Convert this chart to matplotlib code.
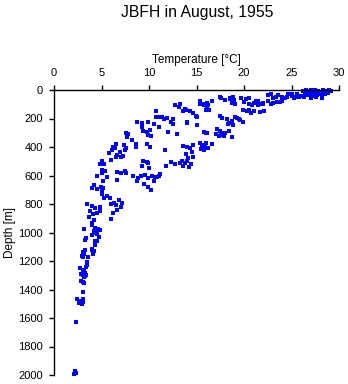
import matplotlib
matplotlib.use("Agg")
import matplotlib.pyplot as plt

plt.rcParams["font.family"] = ["Liberation Sans", "DejaVu Sans"]

# (temperature [degC], depth [m])
surface = [
    (26.2, 5), (26.5, 0), (26.8, 8), (27.0, 3), (27.3, 10), (27.5, 0),
    (27.8, 5), (28.0, 12), (28.3, 2), (28.6, 8), (28.9, 0), (29.2, 5),
    (26.4, 22), (26.9, 28), (27.4, 20), (27.9, 25), (28.4, 18), (28.8, 22),
    (26.6, 38), (27.2, 42), (27.7, 35), (28.2, 40), (28.5, 30),
    (25.0, 42), (25.5, 48), (26.0, 40), (25.3, 58), (25.8, 52), (26.3, 48),
    (27.0, 55), (27.6, 50), (28.2, 56),
    (24.6, 28), (25.1, 30), (25.6, 25),
    (22.5, 32), (23.0, 55), (23.6, 35), (24.0, 48), (24.5, 52),
    (22.8, 30), (23.4, 50), (24.3, 55),
    (21.5, 78), (22.0, 88), (22.5, 80), (23.0, 92), (23.5, 85), (24.0, 78),
    (21.8, 100), (22.8, 96), (23.8, 84),
    (20.0, 82), (20.5, 95), (21.0, 88), (21.5, 102), (22.0, 97), (20.8, 105),
    (21.3, 80),
    (19.7, 58), (20.2, 65), (20.5, 55),
    (18.5, 62), (18.8, 85), (19.0, 100), (18.7, 92),
    (17.6, 58), (18.0, 70), (18.5, 55), (18.9, 72),
    (15.4, 78), (15.8, 98), (16.2, 102), (16.6, 75), (16.1, 90),
    (17.5, 52), (18.8, 50),
]

thermocline = [
    (13.3, 100), (13.6, 147), (13.9, 140), (14.3, 150), (12.7, 105),
    (13.2, 120), (13.8, 130), (14.6, 160), (14.9, 185), (15.0, 190),
    (16.0, 140), (16.3, 142), (15.4, 100), (15.8, 104), (16.1, 110),
    (17.5, 180), (17.7, 195), (18.2, 205), (18.7, 215), (19.3, 195),
    (19.6, 210), (19.9, 222), (19.0, 190), (19.5, 200), (18.4, 232),
    (18.8, 245), (18.3, 240),
    (19.9, 140), (20.3, 150), (20.7, 160), (21.1, 145), (21.7, 155),
    (22.1, 150), (20.5, 142),
    (14.0, 225), (15.0, 245), (12.3, 225), (11.6, 200), (12.5, 240),
    (14.0, 230), (12.0, 293), (12.9, 310),
    (15.8, 295), (16.1, 305), (16.0, 300), (17.1, 310),
    (17.2, 275), (17.5, 290), (17.6, 305), (17.8, 315), (17.4, 320),
    (18.0, 300), (18.4, 285), (18.7, 330), (17.9, 325),
    (15.4, 370), (15.6, 385), (15.7, 392), (15.9, 400), (16.2, 410),
    (16.6, 380), (15.5, 415), (16.0, 375), (15.8, 420),
    (13.6, 390), (14.0, 400), (14.6, 385), (14.3, 410), (14.5, 433),
    (13.9, 450), (14.6, 470), (14.1, 480),
    (13.5, 500), (13.8, 510), (14.0, 495), (14.4, 520), (13.6, 530),
    (14.2, 540), (13.3, 515),
    (12.3, 505), (12.7, 520), (11.8, 530), (11.7, 420),
    (11.4, 188), (11.9, 195), (12.5, 200), (10.7, 150), (10.7, 190),
    (11.0, 192),
]

upper_branch = [
    (8.7, 222), (9.3, 235), (9.3, 260), (9.4, 290), (9.9, 222), (9.8, 295),
    (10.2, 320), (10.1, 280), (10.5, 240), (11.1, 260), (9.9, 316),
    (7.6, 300), (7.8, 310), (7.7, 330), (8.2, 350), (8.6, 380), (8.6, 400),
    (9.8, 380), (7.4, 385), (7.5, 420), (7.6, 405), (10.1, 400),
    (6.5, 380), (6.2, 398), (6.1, 420), (6.4, 410), (6.9, 437), (6.5, 470),
    (7.0, 470), (7.3, 460), (5.8, 440), (6.6, 455), (6.0, 490),
    (5.1, 500), (4.8, 520), (5.3, 520), (5.0, 560), (5.4, 565), (5.1, 580),
    (4.5, 600), (5.6, 610), (5.2, 640), (4.9, 680), (5.0, 700),
    (6.6, 575), (7.0, 580), (7.5, 570), (8.3, 600), (6.6, 632), (7.6, 580),
    (8.7, 640),
    (9.4, 500), (9.8, 505), (9.9, 510),
    (8.8, 620), (9.2, 600), (9.6, 595), (9.9, 620), (10.3, 600),
    (10.6, 610), (11.0, 600), (11.2, 590), (9.5, 660), (9.9, 680),
    (10.2, 700), (9.3, 530), (10.0, 550), (10.5, 640), (10.8, 610),
]

deep = [
    (4.0, 690), (4.5, 695), (5.2, 685), (4.2, 670), (5.0, 730), (5.6, 745),
    (5.3, 760),
    (5.9, 760), (6.3, 790), (6.8, 770), (6.0, 800), (6.5, 810), (7.0, 820),
    (6.6, 840), (6.2, 860), (6.0, 906), (7.2, 790),
    (3.5, 800), (4.0, 815), (4.3, 830), (3.8, 850), (4.1, 870), (4.5, 860),
    (3.7, 890), (4.2, 910), (4.0, 930), (4.8, 820), (4.8, 850),
    (4.0, 950), (4.3, 965), (4.6, 975), (4.2, 990), (4.8, 985), (4.5, 1010),
    (4.0, 1020), (4.7, 1030), (4.4, 1000), (3.2, 975), (3.3, 1050),
    (4.3, 1060), (4.5, 1060), (4.3, 1085), (4.0, 1115), (4.2, 1130),
    (3.4, 1040),
    (3.0, 1140), (3.2, 1150), (3.1, 1170), (3.3, 1125), (2.9, 1165),
    (3.6, 1175), (4.0, 1120), (4.1, 1150),
    (3.5, 1210), (3.5, 1230), (3.4, 1245), (3.2, 1260), (3.1, 1275),
    (2.7, 1250), (3.3, 1285),
    (2.8, 1290), (3.0, 1300), (3.3, 1305), (3.4, 1295), (3.2, 1310),
    (2.8, 1340), (3.0, 1345), (3.2, 1355), (3.1, 1350),
    (3.1, 1415),
    (2.4, 1470), (2.8, 1480), (3.0, 1465), (3.0, 1490), (2.9, 1500),
    (2.6, 1495),
    (2.3, 1630),
    (2.2, 1975), (2.3, 1985), (2.1, 1995),
]

x_ticks = [0, 5, 10, 15, 20, 25, 30]
y_ticks = [0, 200, 400, 600, 800, 1000, 1200, 1400, 1600, 1800, 2000]

points = surface + thermocline + upper_branch + deep
temps = [p[0] for p in points]
depths = [p[1] for p in points]

fig = plt.figure(figsize=(3.48, 3.84), dpi=100)
ax = fig.add_axes([54 / 348, 1 - 375 / 384, 285 / 348, 285 / 384])

ax.plot(temps, depths, linestyle="none", marker="s", markersize=2.3,
        color="#0000ff", markeredgewidth=0, clip_on=False)

ax.set_xlim(0, 30)
ax.set_ylim(2000, 0)
ax.set_xticks(x_ticks)
ax.set_yticks(y_ticks)
ax.xaxis.tick_top()
ax.xaxis.set_label_position("top")
ax.spines["right"].set_visible(False)
ax.spines["bottom"].set_visible(False)
for side in ("top", "left"):
    ax.spines[side].set_linewidth(1.0)
ax.tick_params(direction="out", length=3.8, width=1.0, labelsize=8)
ax.tick_params(axis="x", pad=4.5)
ax.tick_params(axis="y", pad=4)
ax.set_xlabel("Temperature [\u00b0C]", fontsize=8.5, labelpad=4)
ax.set_ylabel("Depth [m]", fontsize=8.5, labelpad=2)

fig.text(0.567, 0.988, "JBFH in August, 1955", ha="center", va="top", fontsize=11.3)

fig.savefig("out.png", dpi=100)
